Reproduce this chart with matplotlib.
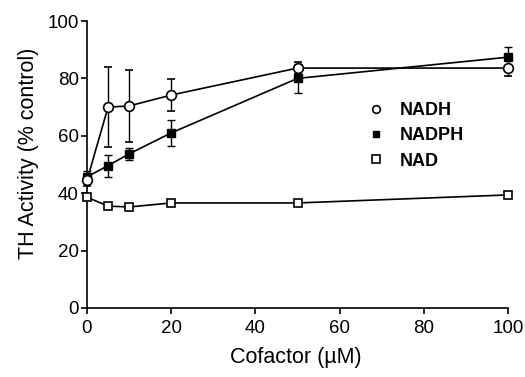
import matplotlib
matplotlib.use("Agg")
import matplotlib.pyplot as plt
from matplotlib.lines import Line2D

plt.rcParams['font.family'] = ['Liberation Sans', 'DejaVu Sans']

x = [0, 5, 10, 20, 50, 100]
nadh = [44.5, 70.0, 70.4, 74.2, 83.6, 83.6]
nadh_err = [2.0, 14.0, 12.5, 5.5, 2.0, 2.8]
nadph = [45.7, 49.6, 53.7, 61.0, 80.0, 87.4]
nadph_err = [2.0, 3.8, 2.2, 4.5, 5.0, 3.5]
nad = [38.6, 35.5, 35.2, 36.6, 36.6, 39.4]
nad_err = [1.0, 0.8, 0.8, 0.8, 0.8, 0.8]

xticks = [0, 20, 40, 60, 80, 100]
yticks = [0, 20, 40, 60, 80, 100]

fig = plt.figure(figsize=(5.25, 3.77), dpi=100)
ax = fig.add_axes([87/525, 1-308/377, (508-87)/525, (308-21)/377])

common = dict(color='black', lw=1.2, capsize=3.2, elinewidth=1.0, capthick=1.0, clip_on=False)
ax.errorbar(x, nad, yerr=nad_err, marker='s', ms=6, mfc='white', mec='black', mew=1.2, zorder=3, **common)
ax.errorbar(x, nadph, yerr=nadph_err, marker='s', ms=5.5, mfc='black', mec='black', zorder=4, **common)
ax.errorbar(x, nadh, yerr=nadh_err, marker='o', ms=7, mfc='white', mec='black', mew=1.2, zorder=5, **common)

ax.set_xlim(0, 100)
ax.set_ylim(0, 100)
ax.set_xticks(xticks)
ax.set_yticks(yticks)
ax.spines['top'].set_visible(False)
ax.spines['right'].set_visible(False)
ax.spines['left'].set_linewidth(1.2)
ax.spines['bottom'].set_linewidth(1.2)
ax.tick_params(direction='out', length=4.5, width=1.2, labelsize=13.5)
ax.tick_params(axis='y', pad=1.5)
ax.tick_params(axis='x', pad=4)

ax.set_xlabel('Cofactor (\u00b5M)', fontsize=15.5)
ax.set_ylabel('TH Activity (% control)', fontsize=15.5)
ax.xaxis.set_label_coords(0.496, -0.135)
ax.yaxis.set_label_coords(-0.113, 0.54)

handles = [
    Line2D([], [], ls='none', marker='o', ms=5.5, mfc='white', mec='black', mew=1.2),
    Line2D([], [], ls='none', marker='s', ms=5, mfc='black', mec='black'),
    Line2D([], [], ls='none', marker='s', ms=5.5, mfc='white', mec='black', mew=1.2),
]
leg = ax.legend(handles, ['NADH', 'NADPH', 'NAD'], frameon=False,
                prop={'size': 13, 'weight': 'bold'},
                loc='upper left', bbox_to_anchor=((351-87)/421, 1-(86-21)/287),
                handlelength=1.0, handletextpad=0.8, labelspacing=0.45)

fig.savefig('out.png', dpi=100)
